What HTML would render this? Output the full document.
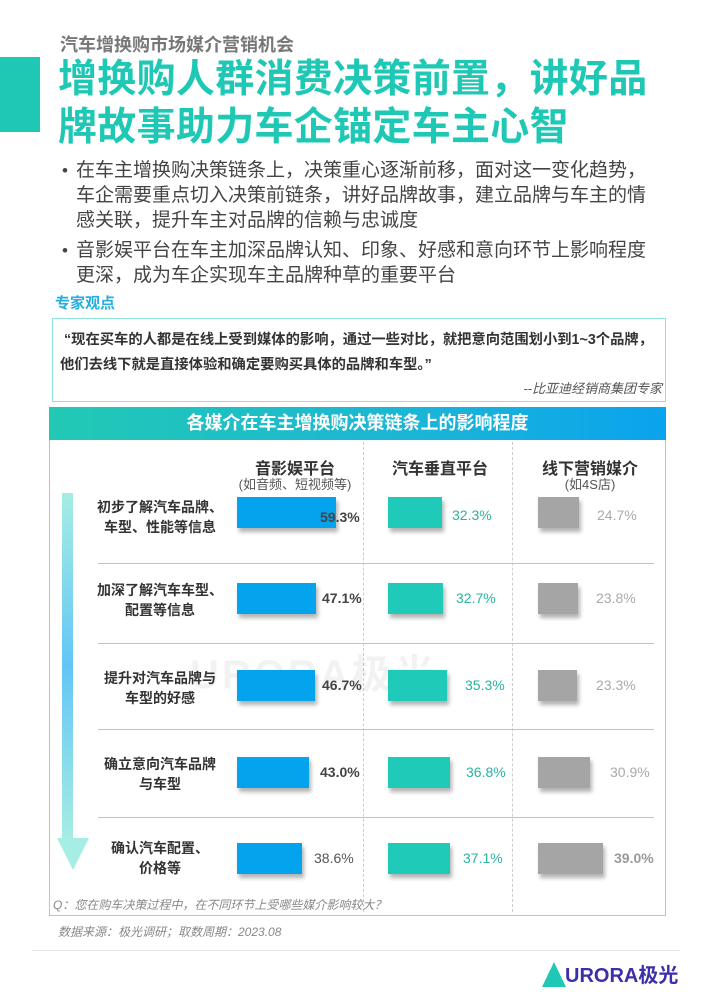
<!DOCTYPE html>
<html><head><meta charset="utf-8"><style>
*{margin:0;padding:0;box-sizing:border-box}
body{width:710px;height:1004px;background:#fff;position:relative;overflow:hidden;font-family:"Liberation Sans","Noto Sans CJK SC",sans-serif}
.a{position:absolute;white-space:nowrap;line-height:1}
.t{color:#1fc8b4;font-weight:bold;font-size:39px;left:58px;letter-spacing:0.3px}
.b{font-size:19px;color:#444;left:76px}
.dot{font-size:17px;color:#444;left:62px}
.bar{position:absolute;height:31px;box-shadow:2px 4px 4px rgba(0,0,0,0.3)}
.bl{background:#03a3ee}.tl{background:#1fcbb8}.gr{background:#a5a5a5}
.v{position:absolute;font-size:14px;line-height:31px}
.lab{position:absolute;left:96px;width:128px;text-align:center;font-size:14px;font-weight:bold;color:#333;line-height:20px}
.sep{position:absolute;left:98px;width:556px;height:1px;background:#7fe0d6}
.ch{position:absolute;text-align:center;font-size:16px;font-weight:bold;color:#333}
.cs{position:absolute;text-align:center;font-size:13px;color:#555}
</style></head><body>
<div class="a" style="left:60px;top:36px;font-size:18px;font-weight:bold;color:#777">汽车增换购市场媒介营销机会</div>
<div class="a" style="left:0;top:57px;width:40px;height:75px;background:#1fc8b4"></div>
<div class="a t" style="top:60px">增换购人群消费决策前置，讲好品</div>
<div class="a t" style="top:108px">牌故事助力车企锚定车主心智</div>
<div class="a dot" style="top:162px">•</div>
<div class="a b" style="top:161px">在车主增换购决策链条上，决策重心逐渐前移，面对这一变化趋势，</div>
<div class="a b" style="top:186px">车企需要重点切入决策前链条，讲好品牌故事，建立品牌与车主的情</div>
<div class="a b" style="top:211px">感关联，提升车主对品牌的信赖与忠诚度</div>
<div class="a dot" style="top:242px">•</div>
<div class="a b" style="top:241px">音影娱平台在车主加深品牌认知、印象、好感和意向环节上影响程度</div>
<div class="a b" style="top:266px">更深，成为车企实现车主品牌种草的重要平台</div>
<div class="a" style="left:55px;top:296px;font-size:15px;font-weight:bold;color:#23aede">专家观点</div>
<div class="a" style="left:52px;top:318px;width:614px;height:84px;border:1.5px solid #8fe3d9"></div>
<div class="a" style="left:64px;top:333px;font-size:14.3px;font-weight:bold;color:#333">“现在买车的人都是在线上受到媒体的影响，通过一些对比，就把意向范围划小到1~3个品牌，</div>
<div class="a" style="left:60px;top:358px;font-size:14.3px;font-weight:bold;color:#333">他们去线下就是直接体验和确定要购买具体的品牌和车型。”</div>
<div class="a" style="right:48px;top:382px;font-size:13px;font-style:italic;color:#555">--比亚迪经销商集团专家</div>
<div class="a" style="left:49px;top:407px;width:617px;height:33px;background:linear-gradient(90deg,#22c9b4,#1bb5d6 60%,#0aa3ee);color:#fff;font-weight:bold;font-size:18px;text-align:center;line-height:33px">各媒介在车主增换购决策链条上的影响程度</div>
<div class="a" style="left:49px;top:440px;width:617px;height:476px;border:1.5px solid #7fe0d6;border-top:none"></div>
<div class="a" style="left:363px;top:442px;height:470px;border-left:1px dashed #ccc"></div>
<div class="a" style="left:512px;top:442px;height:470px;border-left:1px dashed #ccc"></div>
<div class="ch" style="left:225px;width:140px;top:455px">音影娱平台</div>
<div class="cs" style="left:215px;width:160px;top:474px">(如音频、短视频等)</div>
<div class="ch" style="left:370px;width:140px;top:455px">汽车垂直平台</div>
<div class="ch" style="left:520px;width:140px;top:455px">线下营销媒介</div>
<div class="cs" style="left:520px;width:140px;top:474px">(如4S店)</div>
<div class="a" style="left:62px;top:493px;width:11px;height:346px;background:linear-gradient(180deg,#a6ede4,#63c6f5 50%,#a6ede4)"></div>
<div class="a" style="left:57px;top:838px;width:0;height:0;border-left:16px solid transparent;border-right:16px solid transparent;border-top:32px solid #a6ede4"></div>
<div class="a" style="left:190px;top:655px;font-size:40px;font-weight:bold;color:rgba(0,0,0,0.05);letter-spacing:3px">URORA极光</div>
<div class="sep" style="top:563px"></div><div class="sep" style="top:643px"></div><div class="sep" style="top:729px"></div><div class="sep" style="top:817px"></div>

<div class="lab" style="top:497px">初步了解汽车品牌、<br>车型、性能等信息</div>
<div class="bar bl" style="left:237px;top:497px;width:99px"></div><div class="v" style="left:320px;top:502px;font-weight:bold;color:#444">59.3%</div>
<div class="bar tl" style="left:388px;top:497px;width:54px"></div><div class="v" style="left:452px;top:500px;color:#2bb3a0">32.3%</div>
<div class="bar gr" style="left:538px;top:497px;width:41px"></div><div class="v" style="left:597px;top:500px;color:#aaa">24.7%</div>

<div class="lab" style="top:580px">加深了解汽车车型、<br>配置等信息</div>
<div class="bar bl" style="left:237px;top:583px;width:79px"></div><div class="v" style="left:322px;top:583px;font-weight:bold;color:#444">47.1%</div>
<div class="bar tl" style="left:388px;top:583px;width:55px"></div><div class="v" style="left:456px;top:583px;color:#2bb3a0">32.7%</div>
<div class="bar gr" style="left:538px;top:583px;width:40px"></div><div class="v" style="left:596px;top:583px;color:#aaa">23.8%</div>

<div class="lab" style="top:668px">提升对汽车品牌与<br>车型的好感</div>
<div class="bar bl" style="left:237px;top:670px;width:78px"></div><div class="v" style="left:322px;top:670px;font-weight:bold;color:#444">46.7%</div>
<div class="bar tl" style="left:388px;top:670px;width:59px"></div><div class="v" style="left:465px;top:670px;color:#2bb3a0">35.3%</div>
<div class="bar gr" style="left:538px;top:670px;width:39px"></div><div class="v" style="left:596px;top:670px;color:#aaa">23.3%</div>

<div class="lab" style="top:754px">确立意向汽车品牌<br>与车型</div>
<div class="bar bl" style="left:237px;top:757px;width:72px"></div><div class="v" style="left:320px;top:757px;font-weight:bold;color:#444">43.0%</div>
<div class="bar tl" style="left:388px;top:757px;width:62px"></div><div class="v" style="left:466px;top:757px;color:#2bb3a0">36.8%</div>
<div class="bar gr" style="left:538px;top:757px;width:52px"></div><div class="v" style="left:610px;top:757px;color:#aaa">30.9%</div>

<div class="lab" style="top:838px">确认汽车配置、<br>价格等</div>
<div class="bar bl" style="left:237px;top:843px;width:65px"></div><div class="v" style="left:314px;top:843px;color:#555">38.6%</div>
<div class="bar tl" style="left:388px;top:843px;width:62px"></div><div class="v" style="left:463px;top:843px;color:#2bb3a0">37.1%</div>
<div class="bar gr" style="left:538px;top:843px;width:65px"></div><div class="v" style="left:614px;top:843px;font-weight:bold;color:#999">39.0%</div>

<div class="a" style="left:53px;top:899px;font-size:12px;font-style:italic;color:#888">Q：您在购车决策过程中，在不同环节上受哪些媒介影响较大？</div>
<div class="a" style="left:58px;top:926px;font-size:12px;font-style:italic;color:#888">数据来源：极光调研；取数周期：2023.08</div>
<div class="a" style="left:32px;top:950px;width:648px;height:1px;background:#e5e5e5"></div>
<div class="a" style="left:542px;top:962px;width:0;height:0;border-left:12px solid transparent;border-right:12px solid transparent;border-bottom:25px solid #1fc8b4"></div>
<div class="a" style="left:565px;top:966px;font-size:20px;font-weight:bold;color:#3d2fa8">URORA极光</div>
</body></html>
